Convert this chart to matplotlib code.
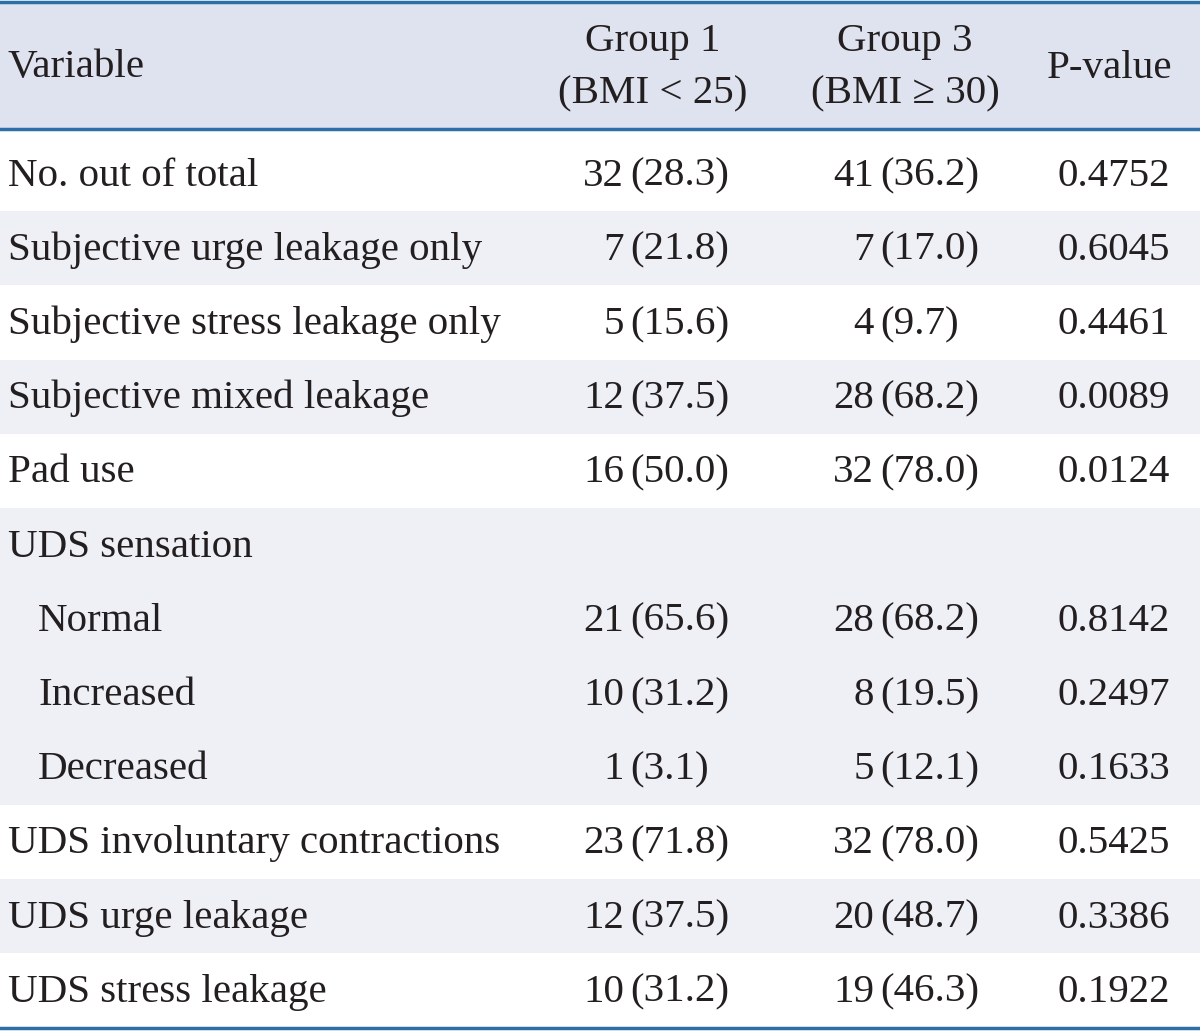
import matplotlib
matplotlib.use("Agg")
import matplotlib.pyplot as plt
from matplotlib.patches import Rectangle

plt.rcParams['font.family'] = ['Liberation Serif', 'DejaVu Serif']

# table data
variables = ["No. out of total", "Subjective urge leakage only", "Subjective stress leakage only",
             "Subjective mixed leakage", "Pad use", "UDS sensation", "Normal", "Increased",
             "Decreased", "UDS involuntary contractions", "UDS urge leakage", "UDS stress leakage"]
indent = [0, 0, 0, 0, 0, 0, 1, 1, 1, 0, 0, 0]
g1_n = ["32", "7", "5", "12", "16", "", "21", "10", "1", "23", "12", "10"]
g1_pct = ["28.3", "21.8", "15.6", "37.5", "50.0", "", "65.6", "31.2", "3.1", "71.8", "37.5", "31.2"]
g3_n = ["41", "7", "4", "28", "32", "", "28", "8", "5", "32", "20", "19"]
g3_pct = ["36.2", "17.0", "9.7", "68.2", "78.0", "", "68.2", "19.5", "12.1", "78.0", "48.7", "46.3"]
p_values = ["0.4752", "0.6045", "0.4461", "0.0089", "0.0124", "", "0.8142", "0.2497", "0.1633",
            "0.5425", "0.3386", "0.1922"]
shaded = [0, 1, 0, 1, 0, 1, 1, 1, 1, 0, 1, 0]

W, H = 1200, 1032
fig = plt.figure(figsize=(W / 100, H / 100), dpi=100)
ax = fig.add_axes([0, 0, 1, 1])
ax.set_xlim(0, W)
ax.set_ylim(H, 0)
ax.axis('off')

fs = 29.5
txt = '#231f20'
blue = '#2f6fa8'
head_bg = '#dfe3ef'
row_bg = '#eff0f6'

# header
ax.add_patch(Rectangle((0, 2), W, 127, color=head_bg, zorder=0))
ax.text(8, 68, "Variable", fontsize=fs, color=txt, va='center', ha='left')
ax.text(653, 68, "Group 1\n(BMI < 25)", fontsize=fs, color=txt, va='center', ha='center',
        linespacing=1.55)
ax.text(905, 68, "Group 3\n(BMI \u2265 30)", fontsize=fs, color=txt, va='center', ha='center',
        linespacing=1.55)
ax.text(1172, 68, "P-value", fontsize=fs, color=txt, va='center', ha='right')

top0 = 137
rh = 74.2
for i, var in enumerate(variables):
    y0 = top0 + i * rh
    yc = y0 + rh / 2 + 2
    if shaded[i]:
        ax.add_patch(Rectangle((0, y0), W, rh, color=row_bg, zorder=0, lw=0))
    ax.text(8 + 30 * indent[i], yc, var, fontsize=fs, color=txt, va='center', ha='left')
    if g1_n[i]:
        ax.text(624, yc, g1_n[i], fontsize=fs, color=txt, va='center', ha='right')
        ax.text(630, yc, "(" + g1_pct[i] + ")", fontsize=fs, color=txt, va='center', ha='left')
        ax.text(874, yc, g3_n[i], fontsize=fs, color=txt, va='center', ha='right')
        ax.text(880, yc, "(" + g3_pct[i] + ")", fontsize=fs, color=txt, va='center', ha='left')
        ax.text(1170, yc, p_values[i], fontsize=fs, color=txt, va='center', ha='right')

# rules
ax.plot([0, W], [2, 2], color=blue, lw=2.5)
ax.plot([0, W], [129, 129], color=blue, lw=2.5)
ax.plot([0, W], [1028, 1028], color=blue, lw=2.5)

fig.savefig("out.png", dpi=100)
